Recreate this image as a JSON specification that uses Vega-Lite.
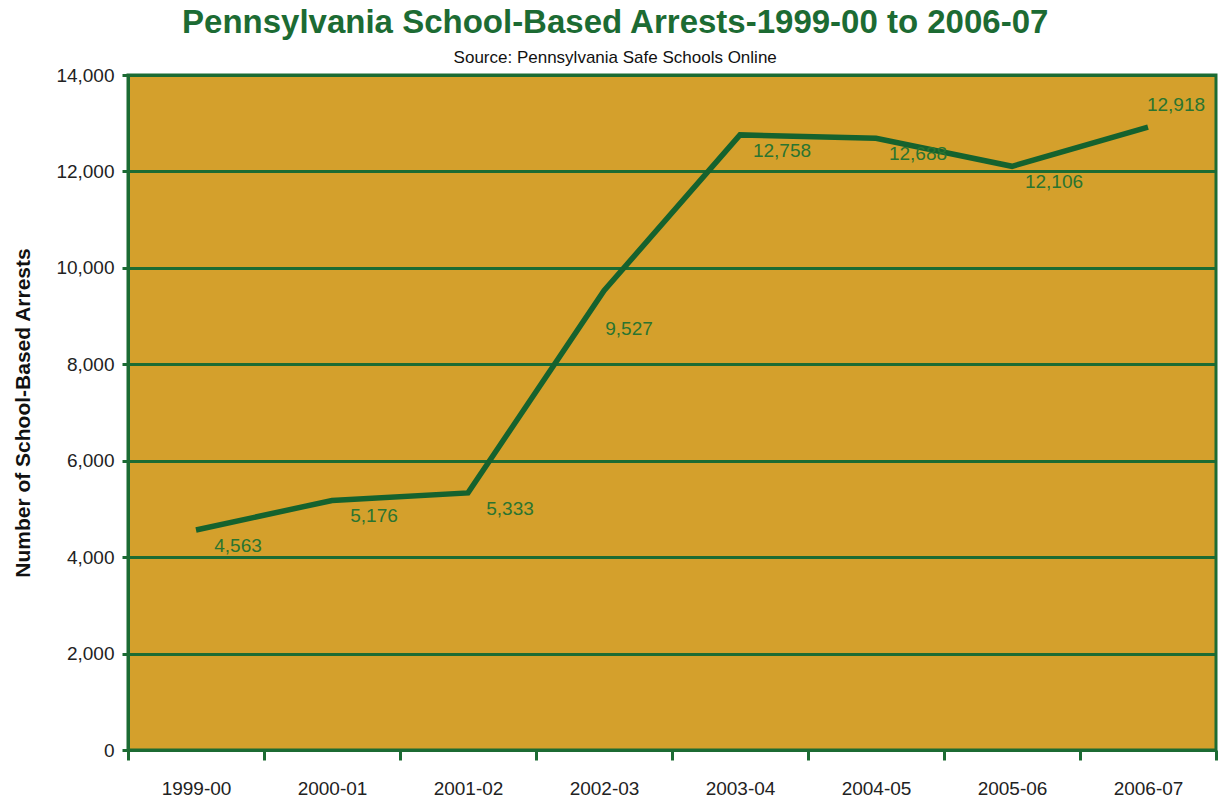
{
  "$schema": "https://vega.github.io/schema/vega-lite/v6.json",
  "width": 1088,
  "height": 675,
  "padding": {"left": 12, "top": 7, "right": 4, "bottom": 4},
  "background": "white",
  "title": {
    "text": "Pennsylvania School-Based Arrests-1999-00 to 2006-07",
    "subtitle": "Source: Pennsylvania Safe Schools Online",
    "anchor": "middle",
    "frame": "bounds",
    "font": "Liberation Sans",
    "fontSize": 33,
    "fontWeight": "bold",
    "color": "#1C6B33",
    "subtitleFont": "Liberation Sans",
    "subtitleFontSize": 17,
    "subtitleColor": "#111111",
    "subtitlePadding": 10,
    "offset": 0
  },
  "config": {
    "view": {"fill": "#D4A02C", "stroke": "#1C6B33", "strokeWidth": 3},
    "font": "Liberation Sans"
  },
  "data": {
    "values": [
      {"year": "1999-00", "arrests": 4563},
      {"year": "2000-01", "arrests": 5176},
      {"year": "2001-02", "arrests": 5333},
      {"year": "2002-03", "arrests": 9527},
      {"year": "2003-04", "arrests": 12758},
      {"year": "2004-05", "arrests": 12688},
      {"year": "2005-06", "arrests": 12106},
      {"year": "2006-07", "arrests": 12918}
    ]
  },
  "encoding": {
    "x": {
      "field": "year",
      "type": "ordinal",
      "bandPosition": 0.5,
      "scale": {"type": "band", "paddingInner": 0, "paddingOuter": 0},
      "axis": {
        "title": null,
        "labelAngle": 0,
        "labelFont": "Liberation Sans",
        "labelFontSize": 19,
        "labelColor": "#222222",
        "labelPadding": 19,
        "tickBand": "extent",
        "tickColor": "#1C6B33",
        "tickWidth": 3,
        "tickSize": 10,
        "domainColor": "#1C6B33",
        "domainWidth": 3,
        "grid": false
      }
    },
    "y": {
      "field": "arrests",
      "type": "quantitative",
      "scale": {"domain": [0, 14000], "nice": false},
      "axis": {
        "title": "Number of School-Based Arrests",
        "titleFont": "Liberation Sans",
        "titleFontSize": 21,
        "titleFontWeight": "bold",
        "titleColor": "#111111",
        "titlePadding": 22,
        "values": [0, 2000, 4000, 6000, 8000, 10000, 12000, 14000],
        "format": ",.0f",
        "labelFont": "Liberation Sans",
        "labelFontSize": 19,
        "labelColor": "#222222",
        "labelPadding": 8,
        "tickColor": "#1C6B33",
        "tickWidth": 3,
        "tickSize": 6,
        "domainColor": "#1C6B33",
        "domainWidth": 3,
        "grid": true,
        "gridColor": "#1C6B33",
        "gridWidth": 3,
        "gridOpacity": 1
      }
    }
  },
  "layer": [
    {
      "mark": {"type": "line", "color": "#15622E", "strokeWidth": 5.5, "strokeJoin": "miter"}
    },
    {
      "transform": [{"filter": "datum.year !== '2006-07' && datum.year !== '2002-03'"}],
      "mark": {"type": "text", "dx": 42, "dy": 16, "fontSize": 19, "color": "#2A7430", "font": "Liberation Sans"},
      "encoding": {"text": {"field": "arrests", "type": "quantitative", "format": ",.0f"}}
    },
    {
      "transform": [{"filter": "datum.year === '2002-03'"}],
      "mark": {"type": "text", "dx": 25, "dy": 38, "fontSize": 19, "color": "#2A7430", "font": "Liberation Sans"},
      "encoding": {"text": {"field": "arrests", "type": "quantitative", "format": ",.0f"}}
    },
    {
      "transform": [{"filter": "datum.year === '2006-07'"}],
      "mark": {"type": "text", "dx": 28, "dy": -22, "fontSize": 19, "color": "#2A7430", "font": "Liberation Sans"},
      "encoding": {"text": {"field": "arrests", "type": "quantitative", "format": ",.0f"}}
    }
  ]
}
